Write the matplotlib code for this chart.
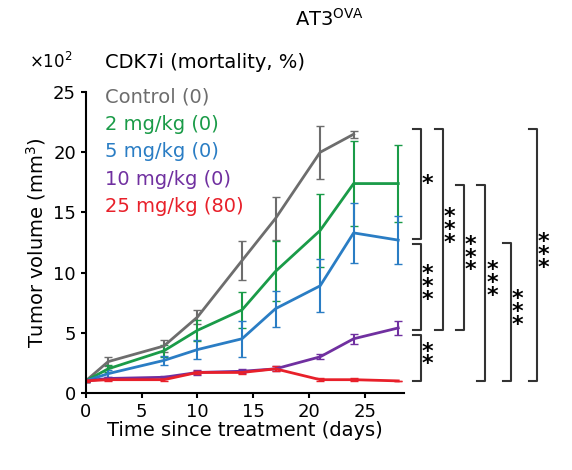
import numpy as np
import matplotlib.pyplot as plt

days = [0, 2, 7, 10, 14, 17, 21, 24, 28]
ctrl = [1.0, 2.6, 3.9, 6.3, 11.0, 14.5, 20.0, 21.5]
ctrl_err = [0.1, 0.4, 0.5, 0.6, 1.6, 1.8, 2.2, 0.3]
mg2 = [1.0, 2.0, 3.5, 5.2, 6.9, 10.1, 13.5, 17.4, 17.4]
mg2_err = [0.1, 0.3, 0.5, 0.9, 1.5, 2.5, 3.0, 3.5, 3.2]
mg5 = [1.0, 1.6, 2.7, 3.6, 4.5, 7.0, 8.9, 13.3, 12.7]
mg5_err = [0.1, 0.3, 0.4, 0.8, 1.5, 1.5, 2.2, 2.5, 2.0]
mg10 = [1.0, 1.2, 1.3, 1.7, 1.8, 2.0, 3.0, 4.5, 5.4]
mg10_err = [0.1, 0.1, 0.1, 0.2, 0.15, 0.2, 0.2, 0.4, 0.6]
mg25 = [1.0, 1.1, 1.1, 1.7, 1.7, 2.0, 1.1, 1.1, 1.0]
mg25_err = [0.1, 0.1, 0.1, 0.1, 0.1, 0.2, 0.1, 0.1, 0.0]

labels = ['Control (0)', '2 mg/kg (0)', '5 mg/kg (0)', '10 mg/kg (0)', '25 mg/kg (80)']
colors = ['#6d6d6d', '#1a9b48', '#2a7dc4', '#7030a0', '#e8202a']
series = [(ctrl, ctrl_err), (mg2, mg2_err), (mg5, mg5_err), (mg10, mg10_err), (mg25, mg25_err)]

# brackets: x position (data), y bottom, y top, number of stars
brackets = [(29.3, 12.8, 21.9, 1), (29.3, 5.2, 12.4, 3), (29.3, 1.0, 4.8, 2),
            (31.3, 5.2, 21.9, 3), (33.2, 5.2, 17.3, 3), (35.1, 1.0, 17.3, 3),
            (37.4, 1.0, 12.5, 3), (39.7, 1.0, 21.9, 3)]

fig = plt.figure(figsize=(5.72, 4.70), dpi=100)
ax = fig.add_axes([0.150, 0.164, 0.556, 0.640])
for (vals, err), c in zip(series, colors):
    ax.errorbar(days[:len(vals)], vals, yerr=err, color=c, lw=2, capsize=3, elinewidth=1.5)

ax.set_xlim(0, 28.5)
ax.set_ylim(0, 25)
ax.set_xticks([0, 5, 10, 15, 20, 25])
ax.set_yticks([0, 5, 10, 15, 20, 25])
ax.spines['top'].set_visible(False)
ax.spines['right'].set_visible(False)
ax.spines['left'].set_linewidth(1.5)
ax.spines['bottom'].set_linewidth(1.5)
ax.tick_params(labelsize=13, width=1.5)
ax.set_xlabel('Time since treatment (days)', fontsize=14, labelpad=0)
ax.set_ylabel('Tumor volume (mm$^3$)', fontsize=14)

for x, y0, y1, n in brackets:
    ax.plot([x, x + 0.7, x + 0.7, x], [y0, y0, y1, y1], color='#333333', lw=1.5, clip_on=False)
    ax.text(x + 1.3, (y0 + y1) / 2, '\n'.join(['*'] * n), ha='center', va='center',
            fontsize=16, fontweight='bold', linespacing=0.55, clip_on=False)

fig.text(0.577, 0.96, 'AT3$^{\\mathrm{OVA}}$', ha='center', va='center', fontsize=14)
fig.text(0.05, 0.868, '×10$^2$', ha='left', va='center', fontsize=12)
fig.text(0.183, 0.868, 'CDK7i (mortality, %)', ha='left', va='center', fontsize=14)
for i, (lab, c) in enumerate(zip(labels, colors)):
    fig.text(0.183, 0.794 - i * 0.0585, lab, color=c, ha='left', va='center', fontsize=14)

fig.savefig('out.png', dpi=100)
